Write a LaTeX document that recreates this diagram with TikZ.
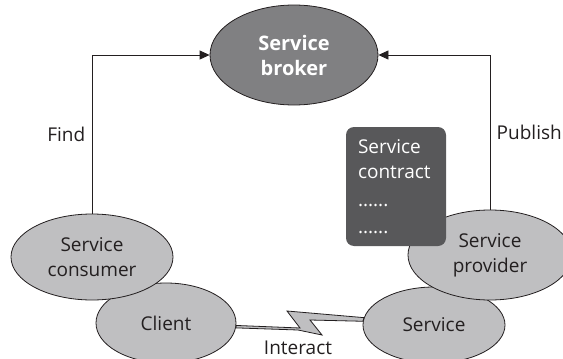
\documentclass[tikz,border=0pt]{standalone}
\usepackage{fontspec}
\setmainfont{Open Sans}
\usetikzlibrary{positioning, arrows.meta, calc, shapes.geometric}

\definecolor{ovalgray}{RGB}{191,191,193}
\definecolor{brokergray}{RGB}{128,128,130}
\definecolor{boxgray}{RGB}{88,88,90}
\definecolor{inkgray}{RGB}{35,31,32}

\begin{document}
\begin{tikzpicture}[
  x=1pt, y=-1pt,
  font=\fontsize{19}{25}\selectfont,
  text=inkgray,
  % Estilos de elipses
  role/.style={ellipse, draw=inkgray, line width=0.8pt, fill=ovalgray, inner sep=0pt, align=center},
  brokerbox/.style={role, fill=brokergray, text=white, font=\fontsize{20}{25}\selectfont\bfseries},
  docbox/.style={draw=none, fill=boxgray, rectangle, rounded corners=8pt, minimum width=100pt, minimum height=119pt, text width=76pt, align=left, text=white, inner sep=0pt},
  % Estilos de flechas
  line/.style={draw=inkgray, line width=0.8pt, -{Triangle[length=10pt, width=9pt]}},
  bolt/.style={draw=inkgray, line width=0.8pt, fill=ovalgray, line join=miter}
]

  \clip (0,0) rectangle (563,359);

  % ==========================================
  % ROLES
  % ==========================================
  \node[role, minimum width=140pt, minimum height=80pt] (client) at (166,323) {Client};
  \node[role, minimum width=142pt, minimum height=76pt] (service) at (434,325) {Service};

  % --- lightning between client and service ---
  \draw[bolt] (client.-2.5) -- (300,328) -- (287,311) -- (service.174)
    -- (service.177) -- (310,320) -- (322,335) -- (298,330) -- (client.-4) -- cycle;
  \node (interact) at (298,348) {Interact};

  \node[role, minimum width=162pt, minimum height=86pt] (consumer) at (92,257) {Service\\consumer};
  \node[role, minimum width=164pt, minimum height=90pt] (provider) at (490,255) {Service\\provider};

  \node[brokerbox, minimum width=168pt, minimum height=100pt] (broker) at (294,55) {Service\\broker};

  \node[docbox] (contract) at (396,186.5) {Service\\contract\\[3pt]......\\[2pt]......};

  % ==========================================
  % FIND / PUBLISH
  % ==========================================
  \draw[line] (consumer.north) |- node[pos=0.25, left=3pt] (find) {Find} (broker.west);
  \draw[line] (provider.north) |- node[pos=0.25, right=3pt] (publish) {Publish} (broker.east);

\end{tikzpicture}
\end{document}
